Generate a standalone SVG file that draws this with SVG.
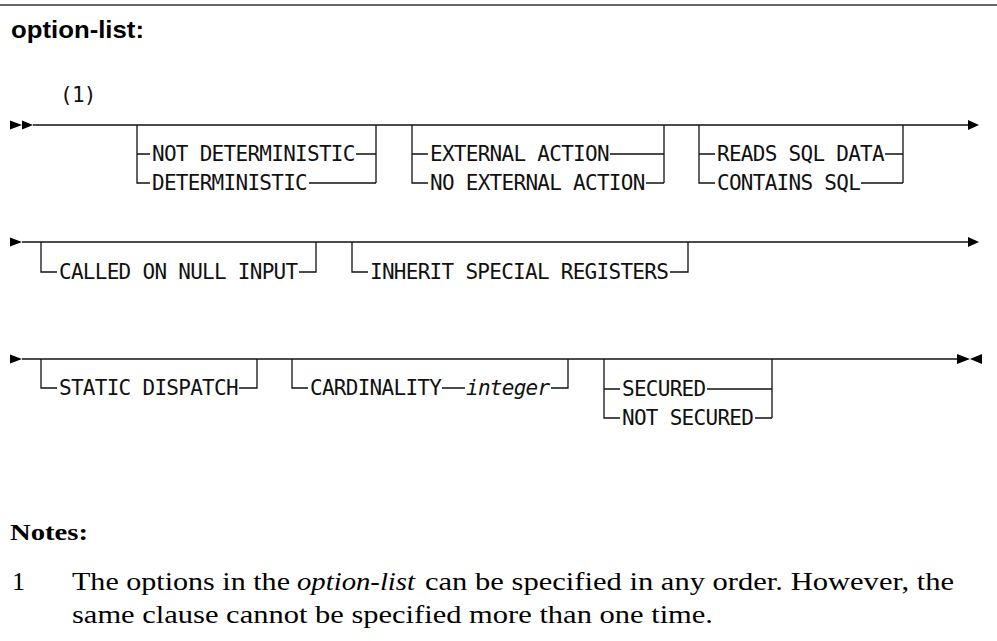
<svg xmlns="http://www.w3.org/2000/svg" width="997" height="641" viewBox="0 0 997 641">
<style>
.bg{fill:#fff}
.ln{fill:none;stroke:#111;stroke-width:1.3}
.ah{fill:#000}
.kw{font-family:"DejaVu Sans Mono","Liberation Mono",monospace;font-size:21px;letter-spacing:-0.72px;fill:#111}
.it{font-family:"DejaVu Sans Mono","Liberation Mono",monospace;font-size:21px;letter-spacing:-0.72px;font-style:italic;fill:#111}
.title{font-family:"Liberation Sans",Arial,sans-serif;font-weight:bold;font-size:24px;fill:#000}
.nh{font-family:"Liberation Serif","Times New Roman",serif;font-weight:bold;font-size:24px;fill:#000}
.nt{font-family:"Liberation Serif","Times New Roman",serif;font-size:26px;fill:#000}
.ni{font-family:"Liberation Serif","Times New Roman",serif;font-size:26px;font-style:italic;fill:#000}
</style>
<rect class="bg" x="0" y="0" width="997" height="641"/>
<line x1="0" y1="5" x2="997" y2="5" stroke="#333" stroke-width="1.5"/>
<text class="title" x="11" y="38" textLength="133" lengthAdjust="spacingAndGlyphs">option-list:</text>
<text class="kw" x="60" y="102">(1)</text>

<g id="connectors">
  <polygon class="ah" points="10,120.5 22,125 10,129.5"/>
  <polygon class="ah" points="22,120.5 33,125 22,129.5"/>
  <path class="ln" d="M33 125 H968"/>
  <polygon class="ah" points="968,120 979,125 968,130"/>
  <polygon class="ah" points="10,237.5 22,242 10,246.5"/>
  <path class="ln" d="M22 242 H968"/>
  <polygon class="ah" points="968,237 979,242 968,247"/>
  <polygon class="ah" points="10,354.5 22,359 10,363.5"/>
  <path class="ln" d="M22 359 H957"/>
  <polygon class="ah" points="957,354 970,359 957,364"/>
  <polygon class="ah" points="982,354 970,359 982,364"/>
</g>

<g id="deterministic">
  <path class="ln" d="M137 125 V183 H150 M137 154 H150 M356 154 H376 M309 183 H376 M376 125 V183"/>
  <text class="kw" x="152" y="161">NOT DETERMINISTIC</text>
  <text class="kw" x="152" y="190">DETERMINISTIC</text>
</g>

<g id="external-action">
  <path class="ln" d="M412 125 V183 H428 M412 154 H428 M610 154 H664 M646 183 H664 M664 125 V183"/>
  <text class="kw" x="430" y="161">EXTERNAL ACTION</text>
  <text class="kw" x="430" y="190">NO EXTERNAL ACTION</text>
</g>

<g id="sql-data">
  <path class="ln" d="M699 125 V183 H715 M699 154 H715 M885 154 H903 M861 183 H903 M903 125 V183"/>
  <text class="kw" x="717" y="161">READS SQL DATA</text>
  <text class="kw" x="717" y="190">CONTAINS SQL</text>
</g>

<g id="called-on-null-input">
  <path class="ln" d="M41 242 V272 H57 M299 272 H316 V242"/>
  <text class="kw" x="59" y="279">CALLED ON NULL INPUT</text>
</g>

<g id="inherit-special-registers">
  <path class="ln" d="M352 242 V272 H368 M670 272 H688 V242"/>
  <text class="kw" x="370" y="279">INHERIT SPECIAL REGISTERS</text>
</g>

<g id="static-dispatch">
  <path class="ln" d="M41 359 V388 H57 M239 388 H257 V359"/>
  <text class="kw" x="59" y="395">STATIC DISPATCH</text>
</g>

<g id="cardinality">
  <path class="ln" d="M292 359 V388 H308 M442 388 H465 M551 388 H568 V359"/>
  <text class="kw" x="310" y="395">CARDINALITY</text>
  <text class="it" x="466" y="395">integer</text>
</g>

<g id="secured">
  <path class="ln" d="M604 359 V418 H620 M604 389 H620 M707 389 H772 M755 418 H772 M772 359 V418"/>
  <text class="kw" x="622" y="396">SECURED</text>
  <text class="kw" x="622" y="425">NOT SECURED</text>
</g>

<g id="notes">
  <text class="nh" x="10" y="540" textLength="78" lengthAdjust="spacingAndGlyphs">Notes:</text>
  <text class="nt" x="12" y="590">1</text>
  <text class="nt" x="72" y="590" textLength="218" lengthAdjust="spacingAndGlyphs">The options in the</text>
  <text class="ni" x="297" y="590" textLength="118" lengthAdjust="spacingAndGlyphs">option-list</text>
  <text class="nt" x="425" y="590" textLength="529" lengthAdjust="spacingAndGlyphs">can be specified in any order. However, the</text>
  <text class="nt" x="72" y="623" textLength="641" lengthAdjust="spacingAndGlyphs">same clause cannot be specified more than one time.</text>
</g>
</svg>
